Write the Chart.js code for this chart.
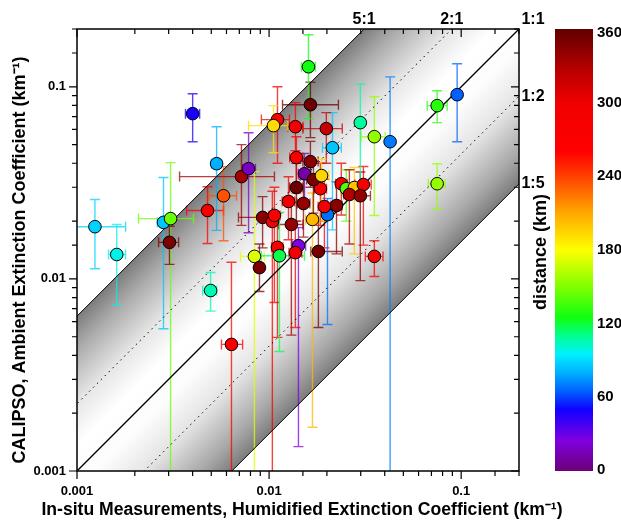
<!DOCTYPE html>
<html>
<head>
<meta charset="utf-8">
<script src="https://cdn.jsdelivr.net/npm/chart.js@4"></script>
<style>
  body { margin: 0; background: #fff; }
  canvas { display: block; }
</style>
</head>
<body>
<canvas id="chart" width="621" height="522"></canvas>
<script>
// in-situ humidified extinction (x) vs CALIPSO ambient extinction (y), km-1
const xVals = [0.00124, 0.00161, 0.00282, 0.00307, 0.00303, 0.00496, 0.00637, 0.00478, 0.00579, 0.00533,
  0.0040, 0.00718, 0.00782, 0.00839, 0.00891, 0.00925, 0.0104, 0.01066, 0.01306, 0.01387,
  0.01262, 0.0151, 0.01106, 0.01132, 0.01422, 0.0137, 0.01806, 0.01682, 0.02014, 0.02244,
  0.01941, 0.0185, 0.02377, 0.02523, 0.02779, 0.02618, 0.03097, 0.02985, 0.03532, 0.04266,
  0.03532, 0.02985, 0.02138, 0.01641, 0.01603, 0.01986, 0.01371, 0.01387, 0.01641, 0.01528,
  0.01702, 0.01875, 0.01106, 0.01054, 0.07499, 0.09528, 0.07499];
const yVals = [0.0187, 0.0134, 0.0197, 0.0206, 0.0155, 0.0087, 0.00456, 0.0227, 0.0271, 0.0398,
  0.0725, 0.0341, 0.0375, 0.0131, 0.01145, 0.0209, 0.0199, 0.0214, 0.0192, 0.0299,
  0.0253, 0.0247, 0.0146, 0.0132, 0.0149, 0.0137, 0.0139, 0.0204, 0.0216, 0.0241,
  0.0238, 0.0295, 0.0313, 0.0295, 0.0299, 0.0275, 0.031, 0.0271, 0.0131, 0.0518,
  0.055, 0.0651, 0.0482, 0.0807, 0.1272, 0.0606, 0.062, 0.0428, 0.0408, 0.0353,
  0.0329, 0.0345, 0.0675, 0.0628, 0.0798, 0.091, 0.0313];
const xLow = [0.00099, 0.00146, 0.00262, 0.00209, 0.00266, 0.00451, 0.00565, 0.00372, 0.00484, 0.00501,
  0.00367, 0.00342, 0.00728, 0.0071, 0.00845, 0.00693, 0.0098, 0.0100, 0.0112, 0.0128,
  0.0117, 0.0140, 0.0103, 0.00912, 0.0132, 0.0127, 0.0165, 0.0155, 0.0190, 0.0210,
  0.0180, 0.0172, 0.0222, 0.0236, 0.0260, 0.0245, 0.0280, 0.0265, 0.0317, 0.0410,
  0.0302, 0.0285, 0.01897, 0.01175, 0.01472, 0.0150, 0.0125, 0.0128, 0.0150, 0.0142,
  0.0157, 0.0172, 0.00912, 0.00782, 0.06653, 0.092, 0.06745];
const xHigh = [0.00179, 0.00179, 0.00302, 0.00404, 0.00338, 0.00533, 0.00728, 0.00579, 0.00677, 0.00565,
  0.00435, 0.01066, 0.00849, 0.00946, 0.00935, 0.0113, 0.0110, 0.0114, 0.0150, 0.0150,
  0.0136, 0.0163, 0.0118, 0.01528, 0.0155, 0.0148, 0.02404, 0.0182, 0.0213, 0.0240,
  0.0209, 0.0199, 0.0255, 0.0270, 0.0297, 0.0280, 0.034, 0.0337, 0.03917, 0.0444,
  0.0402, 0.0313, 0.02377, 0.02296, 0.01742, 0.02404, 0.0150, 0.0150, 0.0180, 0.0165,
  0.0185, 0.0205, 0.01276, 0.0125, 0.08453, 0.099, 0.0826];
const yLow = [0.0113, 0.0073, 0.0055, 0.0009, 0.0119, 0.0068, 0.0009, 0.0153, 0.0158, 0.0179,
  0.0518, 0.019, 0.0174, 0.0009, 0.0086, 0.0145, 0.0009, 0.00754, 0.0051, 0.020,
  0.016, 0.0165, 0.00496, 0.00419, 0.00134, 0.00559, 0.00559, 0.00169, 0.00579, 0.0135,
  0.0145, 0.019, 0.0215, 0.020, 0.0135, 0.0152, 0.015, 0.0098, 0.0103, 0.0009,
  0.0214, 0.0255, 0.018, 0.0544, 0.0683, 0.040, 0.0465, 0.028, 0.030, 0.025,
  0.022, 0.020, 0.040, 0.0454, 0.0651, 0.0518, 0.0232];
const yHigh = [0.0259, 0.0192, 0.0337, 0.0403, 0.0188, 0.0108, 0.0122, 0.0302, 0.0384, 0.062,
  0.092, 0.050, 0.0577, 0.0362, 0.0152, 0.0268, 0.0286, 0.030, 0.025, 0.040,
  0.034, 0.033, 0.022, 0.0222, 0.0185, 0.020, 0.020, 0.028, 0.0262, 0.032,
  0.033, 0.040, 0.040, 0.037, 0.038, 0.037, 0.0385, 0.036, 0.0158, 0.1127,
  0.0888, 0.1033, 0.0734, 0.1058, 0.1866, 0.0734, 0.0827, 0.055, 0.052, 0.045,
  0.041, 0.042, 0.100, 0.0798, 0.0954, 0.1319, 0.0398];
const distKm = [88, 98, 85, 145, 350, 105, 275, 280, 235, 80,
  48, 335, 18, 172, 350, 345, 290, 285, 340, 355,
  295, 340, 285, 118, 25, 300, 352, 205, 68, 345,
  290, 285, 295, 140, 200, 330, 290, 340, 275, 70,
  155, 108, 85, 355, 125, 320, 290, 280, 345, 10,
  350, 195, 285, 192, 130, 65, 155];

const xTickValues = [0.001, 0.01, 0.1];
const xTickLabels = ['0.001', '0.01', '0.1'];
const yTickValues = [0.001, 0.01, 0.1];
const yTickLabels = ['0.001', '0.01', '0.1'];

// reference lines as drawn (y/x), and the names printed where they leave the plot
const ratioValues = [6.4, 2.24, 1, 1 / 2.24, 1 / 6.4];
const ratioLabels = ['5:1', '2:1', '1:1', '1:2', '1:5'];

const cbStops = [0, 25, 50, 65, 80, 95, 110, 125, 150, 180, 210, 240, 260, 300, 330, 360];
const cbColors = ['#6b0078', '#8000e0', '#1000ff', '#0060ff', '#00b0ff', '#00f0ff', '#00ff90', '#10ff10',
  '#80ff00', '#ffff00', '#ffa800', '#ff4000', '#ff0000', '#f00000', '#b00000', '#600000'];
const cbTicks = [0, 60, 120, 180, 240, 300, 360];

const xTitle = 'In-situ Measurements, Humidified Extinction Coefficient (km\u207B\u00B9)';
const yTitle = 'CALIPSO, Ambient Extinction Coefficient (km\u207B\u00B9)';
const cbTitle = 'distance (km)';

const FONT = "'Liberation Sans', Arial, sans-serif";

const hexToRgb = (h) => [1, 3, 5].map((i) => parseInt(h.slice(i, i + 2), 16));
const distColor = (d, alpha = 1) => {
  let i = 1;
  while (i < cbStops.length - 1 && d > cbStops[i]) i++;
  const t = Math.min(1, Math.max(0, (d - cbStops[i - 1]) / (cbStops[i] - cbStops[i - 1])));
  const a = hexToRgb(cbColors[i - 1]);
  const b = hexToRgb(cbColors[i]);
  const c = a.map((v, k) => Math.round(v + (b[k] - v) * t));
  return `rgba(${c[0]},${c[1]},${c[2]},${alpha})`;
};

const isMajor = (v) => Math.abs(Math.log10(v) - Math.round(Math.log10(v))) < 1e-6;
const tickLabel = (values, labels) => (v) => {
  const i = values.findIndex((t) => Math.abs(v / t - 1) < 1e-6);
  return i >= 0 ? labels[i] : '';
};

// grey shaded band between the outer lines, plus error bars under the markers
const bandAndErrors = {
  id: 'bandAndErrors',
  beforeDatasetsDraw(chart) {
    const { ctx, chartArea: a, scales: { x, y } } = chart;
    ctx.save();
    ctx.beginPath();
    ctx.rect(a.left, a.top, a.width, a.height);
    ctx.clip();

    const hi = ratioValues[0];
    const lo = ratioValues[ratioValues.length - 1];
    const far0 = 1e-4, far1 = 10;
    const px0 = x.getPixelForValue(0.01);
    const py0 = y.getPixelForValue(0.01 * hi);
    const d = (y.getPixelForValue(0.01 * lo) - py0) / 2;
    const g = ctx.createLinearGradient(px0, py0, px0 + d, py0 + d);
    g.addColorStop(0, '#7c7c7c');
    g.addColorStop(0.1, '#a8a8a8');
    g.addColorStop(0.28, '#e6e6e6');
    g.addColorStop(0.42, '#ffffff');
    g.addColorStop(0.56, '#fdfdfd');
    g.addColorStop(0.72, '#e4e4e4');
    g.addColorStop(0.9, '#a8a8a8');
    g.addColorStop(1, '#7c7c7c');
    ctx.fillStyle = g;
    ctx.beginPath();
    ctx.moveTo(x.getPixelForValue(far0), y.getPixelForValue(far0 * hi));
    ctx.lineTo(x.getPixelForValue(far1), y.getPixelForValue(far1 * hi));
    ctx.lineTo(x.getPixelForValue(far1), y.getPixelForValue(far1 * lo));
    ctx.lineTo(x.getPixelForValue(far0), y.getPixelForValue(far0 * lo));
    ctx.closePath();
    ctx.fill();

    const cap = 5;
    ctx.lineWidth = 1.4;
    xVals.forEach((xv, i) => {
      const px = x.getPixelForValue(xv);
      const py = y.getPixelForValue(yVals[i]);
      const x0 = x.getPixelForValue(xLow[i]);
      const x1 = x.getPixelForValue(xHigh[i]);
      const y0 = y.getPixelForValue(yLow[i]);
      const y1 = y.getPixelForValue(yHigh[i]);
      ctx.strokeStyle = distColor(distKm[i], 0.75);
      ctx.beginPath();
      ctx.moveTo(x0, py); ctx.lineTo(x1, py);
      ctx.moveTo(x0, py - cap); ctx.lineTo(x0, py + cap);
      ctx.moveTo(x1, py - cap); ctx.lineTo(x1, py + cap);
      ctx.moveTo(px, y0); ctx.lineTo(px, y1);
      ctx.moveTo(px - cap, y0); ctx.lineTo(px + cap, y0);
      ctx.moveTo(px - cap, y1); ctx.lineTo(px + cap, y1);
      ctx.stroke();
    });
    ctx.restore();
  }
};

// frame, ticks on all four sides, titles, ratio labels and the colour bar
const frameAndBar = {
  id: 'frameAndBar',
  afterDraw(chart) {
    const { ctx, chartArea: a, scales: { x, y } } = chart;
    ctx.save();
    ctx.strokeStyle = '#000';
    ctx.lineWidth = 1.5;
    ctx.strokeRect(a.left, a.top, a.width, a.height);

    ctx.lineWidth = 1.2;
    ctx.beginPath();
    x.ticks.forEach((t) => {
      const p = x.getPixelForValue(t.value);
      const len = isMajor(t.value) ? 8 : 5;
      ctx.moveTo(p, a.bottom); ctx.lineTo(p, a.bottom + len);
      ctx.moveTo(p, a.top); ctx.lineTo(p, a.top + len);
    });
    y.ticks.forEach((t) => {
      const p = y.getPixelForValue(t.value);
      const len = isMajor(t.value) ? 8 : 5;
      ctx.moveTo(a.left, p); ctx.lineTo(a.left - len, p);
      ctx.moveTo(a.right, p); ctx.lineTo(a.right - len, p);
    });
    ctx.stroke();

    ctx.fillStyle = '#000';
    ctx.textAlign = 'center';
    ctx.textBaseline = 'middle';

    // axis titles (drawn here so they are not squeezed to the plot width)
    ctx.font = `bold 17.6px ${FONT}`;
    ctx.fillText(xTitle, 302, 510);
    ctx.save();
    ctx.translate(20, 260);
    ctx.rotate(-Math.PI / 2);
    ctx.font = `bold 18px ${FONT}`;
    ctx.fillText(yTitle, 0, 0);
    ctx.restore();

    // ratio labels where the lines leave the plot
    ctx.font = `bold 16px ${FONT}`;
    ratioLabels.forEach((lab, i) => {
      const r = ratioValues[i];
      if (r > 1) {
        ctx.fillText(lab, x.getPixelForValue(y.max / r), a.top - 9);
      } else if (r === 1) {
        ctx.fillText(lab, a.right + 14, a.top - 9);
      } else {
        ctx.fillText(lab, a.right + 14, y.getPixelForValue(x.max * r));
      }
    });

    // colour bar
    const bx = 555, bw = 38;
    const g = ctx.createLinearGradient(0, a.bottom, 0, a.top);
    cbStops.forEach((s, i) => g.addColorStop(s / 360, cbColors[i]));
    ctx.fillStyle = g;
    ctx.fillRect(bx, a.top, bw, a.height);
    ctx.fillStyle = '#000';
    ctx.font = `bold 15px ${FONT}`;
    ctx.textAlign = 'left';
    cbTicks.forEach((v) => {
      let py = a.bottom - (v / 360) * a.height;
      py = Math.min(a.bottom - 1, Math.max(a.top + 4, py));
      ctx.fillText(String(v), bx + bw + 4, py);
    });
    ctx.save();
    ctx.translate(541, 252);
    ctx.rotate(-Math.PI / 2);
    ctx.textAlign = 'center';
    ctx.font = `bold 18px ${FONT}`;
    ctx.fillText(cbTitle, 0, 0);
    ctx.restore();
    ctx.restore();
  }
};

const ratioSets = ratioValues.map((r, i) => ({
  type: 'line',
  data: [{ x: 0.0005, y: 0.0005 * r }, { x: 0.4, y: 0.4 * r }],
  borderColor: '#000',
  borderWidth: r === 1 ? 1.3 : 1,
  borderDash: (i === 1 || i === 3) ? [1.5, 4] : [],
  pointRadius: 0,
  fill: false,
  order: 2 + i
}));

new Chart(document.getElementById('chart'), {
  type: 'scatter',
  data: {
    datasets: [
      {
        data: xVals.map((v, i) => ({ x: v, y: yVals[i] })),
        pointBackgroundColor: distKm.map((d) => distColor(d)),
        pointBorderColor: '#000',
        pointBorderWidth: 1,
        pointRadius: 6.3,
        order: 0
      },
      ...ratioSets
    ]
  },
  options: {
    responsive: false,
    animation: false,
    layout: { padding: { top: 29, right: 102, left: 0, bottom: 0 } },
    plugins: { legend: { display: false }, tooltip: { enabled: false } },
    scales: {
      x: {
        type: 'logarithmic',
        min: 0.001,
        max: 0.2,
        afterFit: (s) => { s.height = 51; },
        grid: { display: false, drawTicks: false },
        border: { display: false },
        ticks: {
          autoSkip: false,
          maxRotation: 0,
          padding: 13,
          color: '#000',
          font: { family: FONT, size: 13, weight: 'bold' },
          callback: tickLabel(xTickValues, xTickLabels)
        }
      },
      y: {
        type: 'logarithmic',
        min: 0.001,
        max: 0.2,
        afterFit: (s) => { s.width = 77; },
        grid: { display: false, drawTicks: false },
        border: { display: false },
        ticks: {
          autoSkip: false,
          padding: 11,
          color: '#000',
          font: { family: FONT, size: 13, weight: 'bold' },
          callback: tickLabel(yTickValues, yTickLabels)
        }
      }
    }
  },
  plugins: [bandAndErrors, frameAndBar]
});
</script>
</body>
</html>
